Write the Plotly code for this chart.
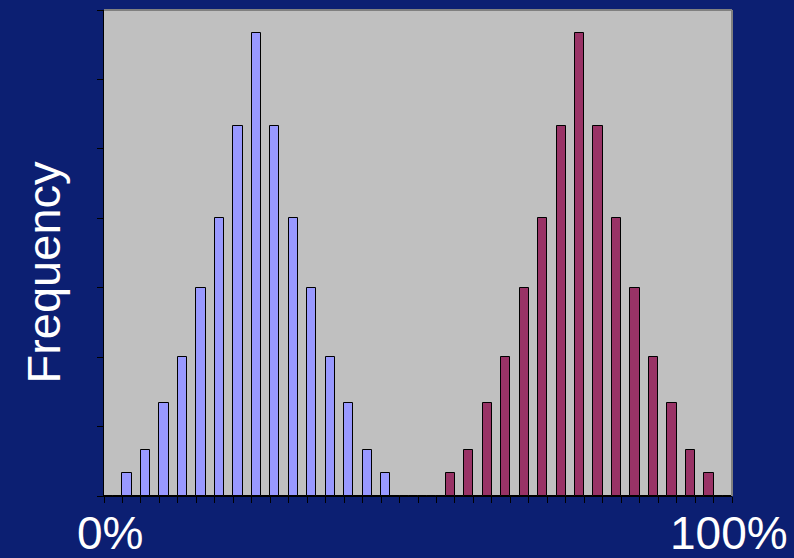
import plotly.graph_objects as go

# Bins along the 0%..100% axis (34 bins)
bins = list(range(34))

# Frequencies of the two distributions per bin
low_group = [0, 1, 2, 4, 6, 9, 12, 16, 20, 16, 12, 9, 6, 4, 2, 1,
             0, 0, 0, 0, 0, 0, 0, 0, 0, 0, 0, 0, 0, 0, 0, 0, 0, 0]
high_group = [0, 0, 0, 0, 0, 0, 0, 0, 0, 0, 0, 0, 0, 0, 0, 0, 0, 0,
              1, 2, 4, 6, 9, 12, 16, 20, 16, 12, 9, 6, 4, 2, 1, 0]

x_end_labels = ["0%", "100%"]
y_title = "Frequency"

NAVY = "#0C1F72"
PLOT_BG = "#C0C0C0"

fig = go.Figure()
fig.add_trace(go.Bar(
    x=bins, y=low_group, name="low",
    marker=dict(color="#9999FF", line=dict(color="black", width=1)),
))
fig.add_trace(go.Bar(
    x=bins, y=high_group, name="high",
    marker=dict(color="#993366", line=dict(color="black", width=1)),
))

fig.update_layout(
    width=794, height=558,
    margin=dict(l=104, r=62, t=10, b=62),
    paper_bgcolor=NAVY,
    plot_bgcolor=PLOT_BG,
    barmode="group",
    bargap=0,
    bargroupgap=0,
    showlegend=False,
    font=dict(family="Liberation Sans, Arial, sans-serif", color="white"),
)

fig.update_xaxes(
    range=[-0.5, len(bins) - 0.5],
    tickvals=[b - 0.5 for b in bins] + [len(bins) - 0.5],
    ticks="outside", ticklen=6, tickwidth=1, tickcolor="black",
    showticklabels=False, showgrid=False, zeroline=False,
    showline=True, linecolor="black", linewidth=1,
)
fig.update_yaxes(
    range=[0, 21], dtick=3,
    ticks="outside", ticklen=6, tickwidth=1, tickcolor="black",
    showticklabels=False, showgrid=False, zeroline=False,
    showline=True, linecolor="black", linewidth=1,
)

# darker frame on the top and right edges of the plot area
fig.add_shape(type="line", xref="paper", yref="paper", x0=0, x1=1, y0=1, y1=1,
              line=dict(color="#808080", width=2))
fig.add_shape(type="line", xref="paper", yref="paper", x0=1, x1=1, y0=0, y1=1,
              line=dict(color="#808080", width=2))

# end labels under the horizontal axis
fig.add_annotation(text=x_end_labels[0], xref="paper", yref="paper",
                   x=0.01, y=-0.018, xanchor="center", yanchor="top",
                   showarrow=False, font=dict(size=46, color="white"))
fig.add_annotation(text=x_end_labels[1], xref="paper", yref="paper",
                   x=0.995, y=-0.018, xanchor="center", yanchor="top",
                   showarrow=False, font=dict(size=46, color="white"))

# vertical axis title
fig.add_annotation(text=y_title, xref="paper", yref="paper",
                   x=-0.097, y=0.46, xanchor="center", yanchor="middle",
                   textangle=-90, showarrow=False,
                   font=dict(size=47, color="white"))

fig.write_html("out.html")
